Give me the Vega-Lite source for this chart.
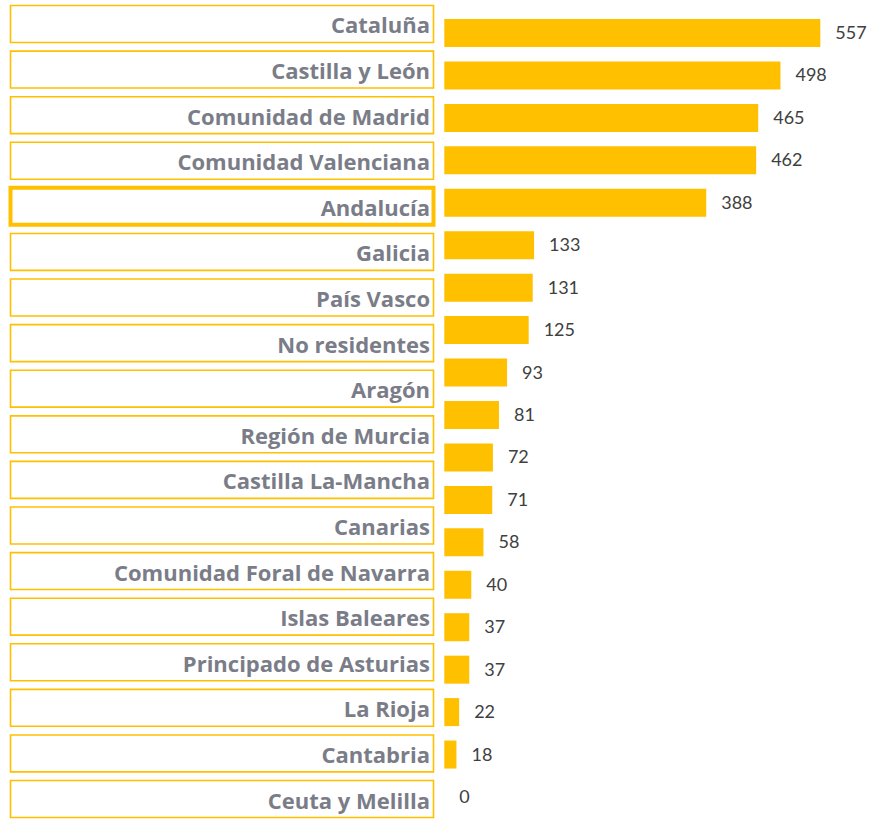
{
  "$schema": "https://vega.github.io/schema/vega-lite/v6.json",
  "width": 879,
  "height": 819,
  "autosize": "none",
  "padding": 0,
  "background": "white",
  "config": {"view": {"stroke": null}},
  "datasets": {
    "labels": [
      {"region": "Cataluña"},
      {"region": "Castilla y León"},
      {"region": "Comunidad de Madrid"},
      {"region": "Comunidad Valenciana"},
      {"region": "Andalucía"},
      {"region": "Galicia"},
      {"region": "País Vasco"},
      {"region": "No residentes"},
      {"region": "Aragón"},
      {"region": "Región de Murcia"},
      {"region": "Castilla La-Mancha"},
      {"region": "Canarias"},
      {"region": "Comunidad Foral de Navarra"},
      {"region": "Islas Baleares"},
      {"region": "Principado de Asturias"},
      {"region": "La Rioja"},
      {"region": "Cantabria"},
      {"region": "Ceuta y Melilla"}
    ],
    "bars": [
      {"rank": 1, "value": 557},
      {"rank": 2, "value": 498},
      {"rank": 3, "value": 465},
      {"rank": 4, "value": 462},
      {"rank": 5, "value": 388},
      {"rank": 6, "value": 133},
      {"rank": 7, "value": 131},
      {"rank": 8, "value": 125},
      {"rank": 9, "value": 93},
      {"rank": 10, "value": 81},
      {"rank": 11, "value": 72},
      {"rank": 12, "value": 71},
      {"rank": 13, "value": 58},
      {"rank": 14, "value": 40},
      {"rank": 15, "value": 37},
      {"rank": 16, "value": 37},
      {"rank": 17, "value": 22},
      {"rank": 18, "value": 18},
      {"rank": 19, "value": 0}
    ]
  },
  "layer": [
    {
      "data": {"name": "labels"},
      "encoding": {
        "y": {
          "field": "region",
          "type": "nominal",
          "sort": null,
          "axis": null,
          "scale": {"range": [5.5, 817.5], "paddingInner": 0.19, "paddingOuter": 0}
        }
      },
      "layer": [
        {
          "mark": {"type": "rect", "x": 10.5, "x2": 433.5, "fill": "white", "stroke": "#FFC000"},
          "encoding": {
            "strokeWidth": {
              "condition": {"test": "datum.region === 'Andalucía'", "value": 4},
              "value": 1.6
            }
          }
        },
        {
          "mark": {
            "type": "text",
            "x": 430,
            "align": "right",
            "baseline": "alphabetic",
            "dy": 9.5,
            "font": "Open Sans",
            "fontWeight": "bold",
            "fontSize": 22,
            "fill": "#7a7d88"
          },
          "encoding": {"text": {"field": "region"}}
        }
      ]
    },
    {
      "data": {"name": "bars"},
      "encoding": {
        "y": {
          "field": "rank",
          "type": "ordinal",
          "axis": null,
          "scale": {"range": [19, 811], "paddingInner": 0.34, "paddingOuter": 0}
        },
        "x": {
          "field": "value",
          "type": "quantitative",
          "axis": null,
          "scale": {"domain": [0, 557], "range": [444.3, 820.3]}
        }
      },
      "layer": [
        {"mark": {"type": "bar", "color": "#FFC000"}},
        {
          "mark": {
            "type": "text",
            "align": "left",
            "baseline": "middle",
            "dx": 15,
            "dy": 1,
            "font": "Lato",
            "fontSize": 18,
            "fill": "#404040"
          },
          "encoding": {"text": {"field": "value", "type": "quantitative"}}
        }
      ]
    }
  ],
  "resolve": {"scale": {"y": "independent", "x": "independent"}}
}
